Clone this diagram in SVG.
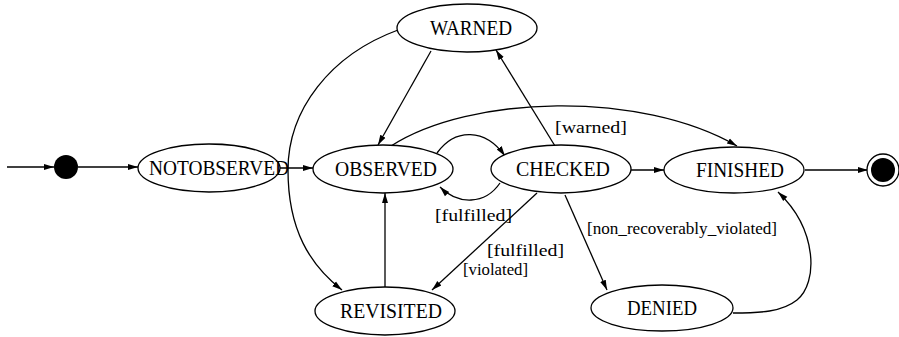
<svg xmlns="http://www.w3.org/2000/svg" width="899" height="337" viewBox="0 0 899 337">
<style>
.n ellipse{fill:#fff;stroke:#000;stroke-width:1.3}
.n text{font-family:"Liberation Serif","Times New Roman",serif;font-size:20px;text-anchor:middle;fill:#000}
.e path{fill:none;stroke:#000;stroke-width:1.3;marker-end:url(#a)}
.l{font-family:"Liberation Serif","Times New Roman",serif;font-size:16px;fill:#000}
</style>
<defs>
<marker id="a" viewBox="0 0 10 8" refX="10" refY="4" markerWidth="10" markerHeight="8" markerUnits="userSpaceOnUse" orient="auto">
<path d="M0,1 L10,4 L0,7 z" fill="#000"/>
</marker>
</defs>
<rect width="899" height="337" fill="#fff"/>
<g class="e" id="connectors">
<path d="M7,167 L54,167"/>
<path d="M78,167 L138,167"/>
<path d="M280,168 L313,168"/>
<path d="M431,51 L378,145"/>
<path d="M398,30 C330,55 288,110 288,170 C288,230 310,265 342,290"/>
<path d="M391,146 C470,95 640,90 737,146"/>
<path d="M437,153 C455,128 485,128 505,156"/>
<path d="M500,183 C485,205 458,205 440,187"/>
<path d="M555,146 L496,50"/>
<path d="M631,170 L664,170"/>
<path d="M537,193 L432,290"/>
<path d="M565,195 L607,290"/>
<path d="M733,313 C760,313 782,312 797,300 C818,283 818,230 778,192"/>
<path d="M385,287 L385,193"/>
<path d="M805,170 L868,170"/>
</g>
<g id="labels">
<text class="l" x="555" y="133" textLength="72" lengthAdjust="spacingAndGlyphs">[warned]</text>
<text class="l" x="435" y="221" textLength="77" lengthAdjust="spacingAndGlyphs">[fulfilled]</text>
<text class="l" x="487" y="256" textLength="77" lengthAdjust="spacingAndGlyphs">[fulfilled]</text>
<text class="l" x="463" y="275" textLength="65" lengthAdjust="spacingAndGlyphs">[violated]</text>
<text class="l" x="587" y="234" textLength="190" lengthAdjust="spacingAndGlyphs" font-size="15">[non_recoverably_violated]</text>
</g>
<g id="initial"><circle cx="66" cy="167" r="12" fill="#000"/></g>
<g id="final"><circle cx="883" cy="170" r="16" fill="#fff" stroke="#000" stroke-width="1.3"/><circle cx="883" cy="170" r="12" fill="#000"/></g>
<g class="n" id="NOTOBSERVED"><ellipse cx="209" cy="168" rx="71" ry="24"/><text x="219" y="175" textLength="140" lengthAdjust="spacingAndGlyphs">NOTOBSERVED</text></g>
<g class="n" id="OBSERVED"><ellipse cx="383" cy="169" rx="70" ry="24"/><text x="386" y="176" textLength="102" lengthAdjust="spacingAndGlyphs">OBSERVED</text></g>
<g class="n" id="CHECKED"><ellipse cx="561" cy="169" rx="70" ry="24"/><text x="563" y="176" textLength="94" lengthAdjust="spacingAndGlyphs">CHECKED</text></g>
<g class="n" id="FINISHED"><ellipse cx="734" cy="170" rx="70" ry="23"/><text x="740" y="177" textLength="88" lengthAdjust="spacingAndGlyphs">FINISHED</text></g>
<g class="n" id="WARNED"><ellipse cx="467" cy="28" rx="70" ry="24"/><text x="471" y="35" textLength="82" lengthAdjust="spacingAndGlyphs">WARNED</text></g>
<g class="n" id="REVISITED"><ellipse cx="385" cy="311" rx="70" ry="24"/><text x="391" y="318" textLength="102" lengthAdjust="spacingAndGlyphs">REVISITED</text></g>
<g class="n" id="DENIED"><ellipse cx="662" cy="308" rx="71" ry="23"/><text x="662" y="315" textLength="70" lengthAdjust="spacingAndGlyphs">DENIED</text></g>
</svg>
